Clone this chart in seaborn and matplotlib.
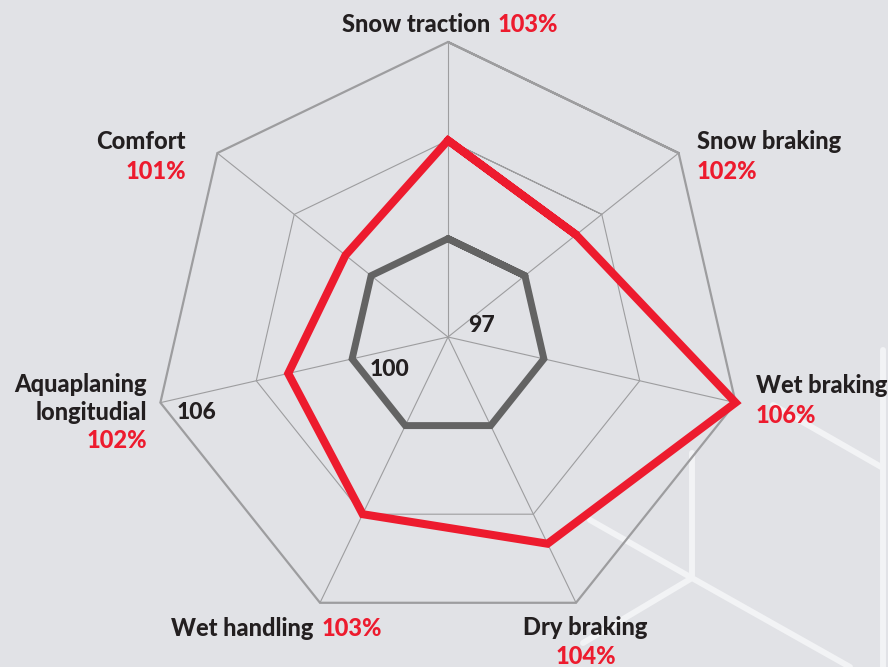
"""
Tyre test radar - recreated with seaborn / matplotlib
"""

import numpy as np
import pandas as pd
import matplotlib
matplotlib.use("Agg")
import matplotlib.pyplot as plt
from matplotlib.lines import Line2D
import seaborn as sns

# ─── DATA ───────────────────────────────────────────────
CATEGORIES = ["Snow traction", "Snow braking", "Wet braking", "Dry braking",
              "Wet handling", "Aquaplaning\nlongitudial", "Comfort"]
TYRE_VALUES = [103, 102, 106, 104, 103, 102, 101]
REFERENCE_VALUES = [100, 100, 100, 100, 100, 100, 100]
RING_VALUES = [100, 103, 106]
RING_LABELS = ["97", "100", "106"]
SCALE_MIN, SCALE_MAX = 97, 106

# ─── STYLE ──────────────────────────────────────────────
W, H = 888, 667
BG = "#e1e2e6"
RED = "#ed1b2e"
DARK = "#636363"
GRID = "#9d9d9f"
TXT = "#231f20"
CX, CY, R = 448, 337, 295   # chart centre / radius in pixels

sns.set_theme(style="white")
plt.rcParams["font.family"] = ["Lato", "DejaVu Sans"]


def polygon(values, close=True):
    n = len(values)
    ang = np.pi / 2 - 2 * np.pi * np.arange(n) / n
    r = (np.asarray(values, dtype=float) - SCALE_MIN) / (SCALE_MAX - SCALE_MIN)
    x, y = r * np.cos(ang), r * np.sin(ang)
    if close:   # repeat first two points so every corner gets a miter join
        x = np.r_[x, x[:2]]
        y = np.r_[y, y[:2]]
    return pd.DataFrame({"x": x, "y": y})


def px(x, y):
    return x / W, 1 - y / H


fig = plt.figure(figsize=(W / 100, H / 100), dpi=100, facecolor=BG)

# decorative background lines (lower right)
for seg in [[(883, 350), (883, 667)], [(773, 405), (883, 468)],
            [(692, 453), (692, 578)], [(590, 520), (692, 578), (850, 667)],
            [(692, 578), (583, 643)]]:
    xs, ys = zip(*[px(*p) for p in seg])
    fig.add_artist(Line2D(xs, ys, transform=fig.transFigure, color="#f2f3f5",
                          lw=4.3, solid_capstyle="round", zorder=0))

ax = fig.add_axes([0, 0, 1, 1])
ax.set_facecolor("none")
ax.set_xlim(-CX / R, (W - CX) / R)
ax.set_ylim(-(H - CY) / R, CY / R)
ax.axis("off")

# ─── GRID ───────────────────────────────────────────────
n = len(CATEGORIES)
outer = polygon([SCALE_MAX] * n, close=False)
for i in range(n):
    ax.plot([0, outer.x[i]], [0, outer.y[i]], color=GRID, lw=0.8, zorder=1)
for v in RING_VALUES:
    ring = polygon([v] * n)
    ax.plot(ring.x, ring.y, color=GRID, lw=1.6 if v == SCALE_MAX else 0.8,
            solid_joinstyle="miter", zorder=1)

# ─── SERIES ─────────────────────────────────────────────
sns.lineplot(data=polygon(REFERENCE_VALUES), x="x", y="y", sort=False,
             estimator=None, color=DARK, linewidth=5.0, ax=ax,
             solid_joinstyle="miter", zorder=3)
sns.lineplot(data=polygon(TYRE_VALUES), x="x", y="y", sort=False,
             estimator=None, color=RED, linewidth=5.8, ax=ax,
             solid_joinstyle="miter", zorder=4)
ax.set_xlabel("")
ax.set_ylabel("")

# ─── LABELS ─────────────────────────────────────────────
FS = 17
pct = [f"{v}%" for v in TYRE_VALUES]
kw = dict(transform=fig.transFigure, fontsize=FS, fontweight="black", va="baseline")

# Snow traction (one line)
fig.text(*px(490, 32), CATEGORIES[0], color=TXT, ha="right", **kw)
fig.text(*px(498, 32), pct[0], color=RED, ha="left", **kw)
# Snow braking
fig.text(*px(697, 149), CATEGORIES[1], color=TXT, ha="left", **kw)
fig.text(*px(697, 179), pct[1], color=RED, ha="left", **kw)
# Wet braking
fig.text(*px(756, 393), CATEGORIES[2], color=TXT, ha="left", **kw)
fig.text(*px(756, 423), pct[2], color=RED, ha="left", **kw)
# Dry braking
fig.text(*px(585, 635), CATEGORIES[3], color=TXT, ha="center", **kw)
fig.text(*px(586, 664), pct[3], color=RED, ha="center", **kw)
# Wet handling (one line)
fig.text(*px(313, 636), CATEGORIES[4], color=TXT, ha="right", **kw)
fig.text(*px(322, 636), pct[4], color=RED, ha="left", **kw)
# Aquaplaning
l1, l2 = CATEGORIES[5].split("\n")
fig.text(*px(147, 392), l1, color=TXT, ha="right", **kw)
fig.text(*px(147, 420), l2, color=TXT, ha="right", **kw)
fig.text(*px(147, 448), pct[5], color=RED, ha="right", **kw)
# Comfort
fig.text(*px(186, 149), CATEGORIES[6], color=TXT, ha="right", **kw)
fig.text(*px(186, 179), pct[6], color=RED, ha="right", **kw)

# scale labels
for lab, (x, y) in zip(RING_LABELS, [(468, 332), (370, 376), (177, 419)]):
    fig.text(*px(x, y), lab, color=TXT, ha="left", **{**kw, "fontsize": 16.5})

fig.savefig("out.png", dpi=100, facecolor=BG)
